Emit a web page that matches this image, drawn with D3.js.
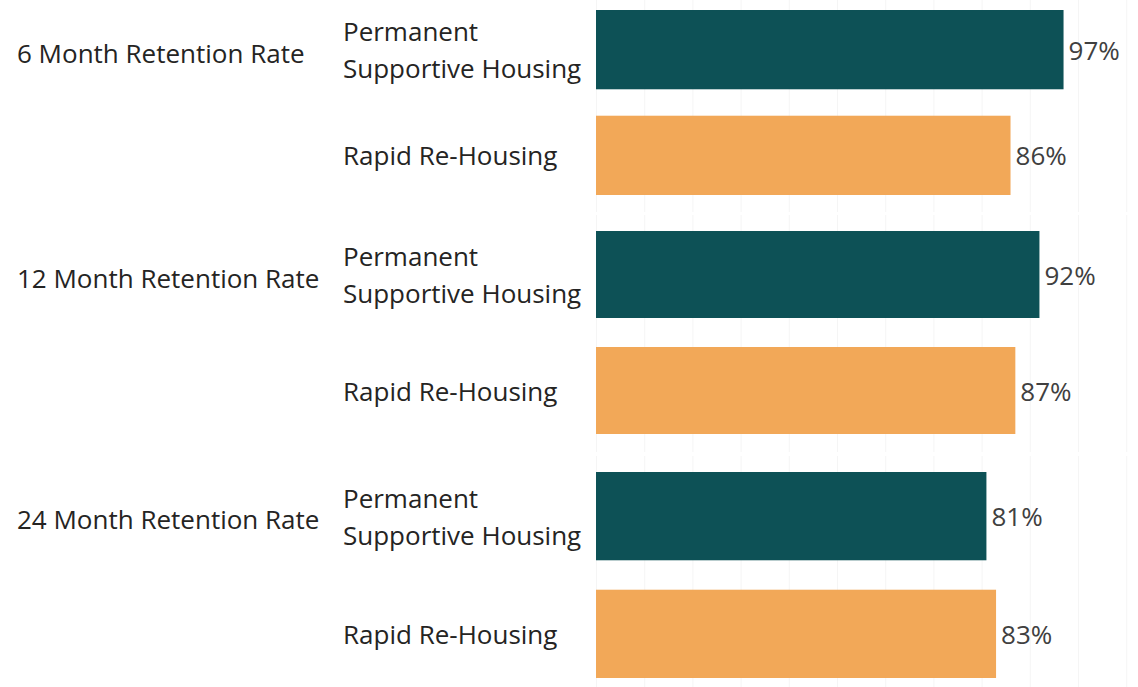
<!DOCTYPE html>
<html>
<head>
<meta charset="utf-8">
<script src="https://cdn.jsdelivr.net/npm/d3@7"></script>
<style>
  body { margin: 0; background: #fff; }
  svg { display: block; font-family: "Segoe UI", "Open Sans", sans-serif; }
</style>
</head>
<body>
<svg id="chart" width="1138" height="687"></svg>
<script>
// chart values
var groups = ['6 Month Retention Rate', '12 Month Retention Rate', '24 Month Retention Rate'];
var programs = ['Permanent Supportive Housing', 'Rapid Re-Housing'];
var programLines = [['Permanent', 'Supportive Housing'], ['Rapid Re-Housing']];
var pshValues = [97, 92, 81];
var rrhValues = [86, 87, 83];
var gridTicks = [0, 10, 20, 30, 40, 50, 60, 70, 80, 90, 100, 110];

var colors = { 'Permanent Supportive Housing': '#0d5156', 'Rapid Re-Housing': '#f2a858' };

// each small-multiple panel: where its bars sit vertically
var panels = [
  { top: 0,   bottom: 212, barTop: 10,  barBottom: 195 },
  { top: 215, bottom: 452, barTop: 231, barBottom: 434 },
  { top: 456, bottom: 687, barTop: 472, barBottom: 678 }
];

var svg = d3.select('#chart');

var x = d3.scaleLinear().domain([0, 100]).range([596, 1078]);

groups.forEach(function(g, i) {
  var p = panels[i];
  var rows = [
    { program: programs[0], lines: programLines[0], value: pshValues[i] },
    { program: programs[1], lines: programLines[1], value: rrhValues[i] }
  ];
  var y = d3.scaleBand().domain(programs).range([p.barTop, p.barBottom]).paddingInner(0.25);

  var panel = svg.append('g').attr('class', 'panel');

  // faint gridlines
  panel.selectAll('line.grid')
    .data(gridTicks.filter(function(t) { return x(t) < 1138; }))
    .enter().append('line')
      .attr('class', 'grid')
      .attr('x1', function(d) { return x(d) + 0.5; })
      .attr('x2', function(d) { return x(d) + 0.5; })
      .attr('y1', p.top).attr('y2', p.bottom)
      .attr('stroke', '#f5f5f5')
      .attr('stroke-width', 1);

  panel.selectAll('rect.bar')
    .data(rows)
    .enter().append('rect')
      .attr('class', 'bar')
      .attr('x', x(0))
      .attr('y', function(d) { return y(d.program); })
      .attr('width', function(d) { return x(d.value) - x(0); })
      .attr('height', y.bandwidth())
      .attr('fill', function(d) { return colors[d.program]; });

  panel.selectAll('text.value')
    .data(rows)
    .enter().append('text')
      .attr('class', 'value')
      .attr('x', function(d) { return x(d.value) + 5; })
      .attr('y', function(d) { return y(d.program) + y.bandwidth() / 2; })
      .attr('dominant-baseline', 'central')
      .attr('font-size', 26)
      .attr('fill', '#404040')
      .text(function(d) { return d.value + '%'; });

  // program labels (may wrap to two lines)
  var lab = panel.selectAll('text.program')
    .data(rows)
    .enter().append('text')
      .attr('class', 'program')
      .attr('x', 343)
      .attr('font-size', 26)
      .attr('fill', '#252423');
  lab.each(function(d) {
    var t = d3.select(this);
    var cy = y(d.program) + y.bandwidth() / 2;
    var lh = 37;
    var start = cy - (d.lines.length - 1) * lh / 2;
    d.lines.forEach(function(line, k) {
      t.append('tspan')
        .attr('x', 343)
        .attr('y', start + k * lh)
        .attr('dominant-baseline', 'central')
        .text(line);
    });
  });

  // group label
  panel.append('text')
    .attr('class', 'group')
    .attr('x', 17)
    .attr('y', y(programs[0]) + y.bandwidth() / 2 + 3)
    .attr('dominant-baseline', 'central')
    .attr('font-size', 26)
    .attr('fill', '#252423')
    .text(g);
});
</script>
</body>
</html>
